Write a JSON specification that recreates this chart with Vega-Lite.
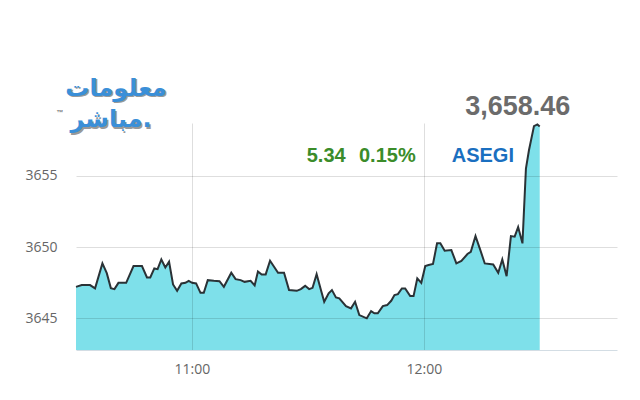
{
  "$schema": "https://vega.github.io/schema/vega-lite/v6.json",
  "autosize": "none",
  "width": 541,
  "height": 227,
  "padding": {"left": 76, "top": 123, "right": 23, "bottom": 50},
  "background": "white",
  "config": {"view": {"stroke": null}},
  "datasets": {
    "series": [
      {"t": "2024-01-01T10:30:00", "v": 3647.21},
      {"t": "2024-01-01T10:31:29", "v": 3647.33},
      {"t": "2024-01-01T10:33:38", "v": 3647.33},
      {"t": "2024-01-01T10:34:56", "v": 3647.10},
      {"t": "2024-01-01T10:36:50", "v": 3648.85},
      {"t": "2024-01-01T10:37:58", "v": 3648.17},
      {"t": "2024-01-01T10:39:01", "v": 3647.12},
      {"t": "2024-01-01T10:39:57", "v": 3647.05},
      {"t": "2024-01-01T10:40:59", "v": 3647.49},
      {"t": "2024-01-01T10:42:59", "v": 3647.49},
      {"t": "2024-01-01T10:44:53", "v": 3648.67},
      {"t": "2024-01-01T10:47:04", "v": 3648.67},
      {"t": "2024-01-01T10:48:22", "v": 3647.87},
      {"t": "2024-01-01T10:49:13", "v": 3647.87},
      {"t": "2024-01-01T10:50:16", "v": 3648.50},
      {"t": "2024-01-01T10:51:07", "v": 3648.45},
      {"t": "2024-01-01T10:52:05", "v": 3649.13},
      {"t": "2024-01-01T10:53:07", "v": 3648.57},
      {"t": "2024-01-01T10:54:05", "v": 3648.97},
      {"t": "2024-01-01T10:55:07", "v": 3647.38},
      {"t": "2024-01-01T10:56:10", "v": 3646.93},
      {"t": "2024-01-01T10:57:16", "v": 3647.45},
      {"t": "2024-01-01T10:58:19", "v": 3647.49},
      {"t": "2024-01-01T10:59:10", "v": 3647.63},
      {"t": "2024-01-01T11:00:03", "v": 3647.49},
      {"t": "2024-01-01T11:01:05", "v": 3647.45},
      {"t": "2024-01-01T11:02:13", "v": 3646.79},
      {"t": "2024-01-01T11:03:04", "v": 3646.79},
      {"t": "2024-01-01T11:04:06", "v": 3647.68},
      {"t": "2024-01-01T11:05:40", "v": 3647.63},
      {"t": "2024-01-01T11:07:08", "v": 3647.61},
      {"t": "2024-01-01T11:08:16", "v": 3647.21},
      {"t": "2024-01-01T11:10:11", "v": 3648.20},
      {"t": "2024-01-01T11:11:18", "v": 3647.75},
      {"t": "2024-01-01T11:12:36", "v": 3647.68},
      {"t": "2024-01-01T11:13:38", "v": 3647.56},
      {"t": "2024-01-01T11:15:11", "v": 3647.63},
      {"t": "2024-01-01T11:16:14", "v": 3647.31},
      {"t": "2024-01-01T11:17:05", "v": 3648.29},
      {"t": "2024-01-01T11:18:03", "v": 3648.08},
      {"t": "2024-01-01T11:19:05", "v": 3648.08},
      {"t": "2024-01-01T11:20:13", "v": 3649.04},
      {"t": "2024-01-01T11:21:15", "v": 3648.62},
      {"t": "2024-01-01T11:22:17", "v": 3648.20},
      {"t": "2024-01-01T11:23:50", "v": 3648.20},
      {"t": "2024-01-01T11:25:08", "v": 3646.98},
      {"t": "2024-01-01T11:27:08", "v": 3646.93},
      {"t": "2024-01-01T11:28:11", "v": 3647.05},
      {"t": "2024-01-01T11:29:18", "v": 3647.28},
      {"t": "2024-01-01T11:30:20", "v": 3647.05},
      {"t": "2024-01-01T11:31:13", "v": 3647.14},
      {"t": "2024-01-01T11:32:16", "v": 3648.10},
      {"t": "2024-01-01T11:33:23", "v": 3646.98},
      {"t": "2024-01-01T11:34:14", "v": 3646.16},
      {"t": "2024-01-01T11:35:23", "v": 3646.75},
      {"t": "2024-01-01T11:36:14", "v": 3646.98},
      {"t": "2024-01-01T11:37:16", "v": 3646.47},
      {"t": "2024-01-01T11:38:08", "v": 3646.40},
      {"t": "2024-01-01T11:39:52", "v": 3645.86},
      {"t": "2024-01-01T11:41:10", "v": 3645.70},
      {"t": "2024-01-01T11:42:13", "v": 3646.16},
      {"t": "2024-01-01T11:43:19", "v": 3645.23},
      {"t": "2024-01-01T11:45:15", "v": 3645.00},
      {"t": "2024-01-01T11:46:22", "v": 3645.51},
      {"t": "2024-01-01T11:47:13", "v": 3645.35},
      {"t": "2024-01-01T11:48:06", "v": 3645.35},
      {"t": "2024-01-01T11:49:24", "v": 3645.86},
      {"t": "2024-01-01T11:50:31", "v": 3645.93},
      {"t": "2024-01-01T11:51:34", "v": 3646.23},
      {"t": "2024-01-01T11:52:25", "v": 3646.63},
      {"t": "2024-01-01T11:53:18", "v": 3646.70},
      {"t": "2024-01-01T11:54:20", "v": 3647.10},
      {"t": "2024-01-01T11:55:11", "v": 3647.10},
      {"t": "2024-01-01T11:56:29", "v": 3646.56},
      {"t": "2024-01-01T11:57:21", "v": 3646.56},
      {"t": "2024-01-01T11:58:19", "v": 3647.80},
      {"t": "2024-01-01T11:59:21", "v": 3647.49},
      {"t": "2024-01-01T12:00:23", "v": 3648.67},
      {"t": "2024-01-01T12:01:15", "v": 3648.74},
      {"t": "2024-01-01T12:02:23", "v": 3648.81},
      {"t": "2024-01-01T12:03:26", "v": 3650.26},
      {"t": "2024-01-01T12:04:17", "v": 3650.26},
      {"t": "2024-01-01T12:05:24", "v": 3649.74},
      {"t": "2024-01-01T12:07:08", "v": 3649.79},
      {"t": "2024-01-01T12:08:26", "v": 3648.85},
      {"t": "2024-01-01T12:09:44", "v": 3649.02},
      {"t": "2024-01-01T12:11:18", "v": 3649.51},
      {"t": "2024-01-01T12:12:10", "v": 3649.67},
      {"t": "2024-01-01T12:13:23", "v": 3650.77},
      {"t": "2024-01-01T12:14:29", "v": 3649.91},
      {"t": "2024-01-01T12:15:47", "v": 3648.85},
      {"t": "2024-01-01T12:17:58", "v": 3648.78},
      {"t": "2024-01-01T12:19:16", "v": 3648.20},
      {"t": "2024-01-01T12:20:19", "v": 3649.13},
      {"t": "2024-01-01T12:21:26", "v": 3647.96},
      {"t": "2024-01-01T12:22:33", "v": 3650.77},
      {"t": "2024-01-01T12:23:31", "v": 3650.73},
      {"t": "2024-01-01T12:24:25", "v": 3651.40},
      {"t": "2024-01-01T12:25:32", "v": 3650.26},
      {"t": "2024-01-01T12:26:26", "v": 3655.51},
      {"t": "2024-01-01T12:27:13", "v": 3656.79},
      {"t": "2024-01-01T12:28:31", "v": 3658.48},
      {"t": "2024-01-01T12:29:24", "v": 3658.60},
      {"t": "2024-01-01T12:30:00", "v": 3658.46}
    ]
  },
  "layer": [
    {
      "data": {"name": "series"},
      "mark": {"type": "area", "color": "#7ee0ea", "opacity": 1, "fillOpacity": 1,
        "line": {"color": "#2a3236", "strokeWidth": 2}},
      "encoding": {
        "x": {
          "field": "t", "type": "temporal",
          "scale": {"domain": [
            {"year": 2024, "month": 1, "date": 1, "hours": 10, "minutes": 30},
            {"year": 2024, "month": 1, "date": 1, "hours": 12, "minutes": 50}
          ], "nice": false},
          "axis": {
            "title": null, "format": "%H:%M",
            "values": [
              {"year": 2024, "month": 1, "date": 1, "hours": 11, "minutes": 0},
              {"year": 2024, "month": 1, "date": 1, "hours": 12, "minutes": 0}
            ],
            "grid": true, "gridColor": "#000", "gridOpacity": 0.13, "ticks": false,
            "domain": true, "domainColor": "#d3dde4", "domainWidth": 1,
            "labelFont": "Open Sans", "labelFontSize": 14, "labelColor": "#666", "labelPadding": 12,
            "zindex": 1
          }
        },
        "y": {
          "field": "v", "type": "quantitative",
          "scale": {"domain": [3642.78, 3658.7], "zero": false, "nice": false},
          "axis": {
            "title": null, "values": [3645, 3650, 3655], "format": "d",
            "grid": true, "gridColor": "#000", "gridOpacity": 0.13, "ticks": false, "domain": false,
            "labelFont": "Open Sans", "labelFontSize": 14, "labelColor": "#666", "labelPadding": 19,
            "zindex": 1
          }
        },
        "y2": {"datum": 3642.78}
      }
    },
    {
      "data": {"values": [{"t": "2024-01-01T12:24:18", "v": 3659.26, "label": "3,658.46"}]},
      "mark": {"type": "text", "align": "center", "baseline": "alphabetic", "font": "Liberation Sans",
        "fontWeight": "bold", "fontSize": 27, "color": "#6b6b6b"},
      "encoding": {"x": {"field": "t", "type": "temporal"}, "y": {"field": "v", "type": "quantitative"}, "text": {"field": "label"}}
    },
    {
      "data": {"values": [
        {"t": "2024-01-01T11:29:42", "v": 3655.99, "label": "5.34"},
        {"t": "2024-01-01T11:43:14", "v": 3655.99, "label": "0.15%"}
      ]},
      "mark": {"type": "text", "align": "left", "baseline": "alphabetic", "font": "Liberation Sans",
        "fontWeight": "bold", "fontSize": 20, "color": "#3b8c2a"},
      "encoding": {"x": {"field": "t", "type": "temporal"}, "y": {"field": "v", "type": "quantitative"}, "text": {"field": "label"}}
    },
    {
      "data": {"values": [{"t": "2024-01-01T12:07:14", "v": 3655.99, "label": "ASEGI"}]},
      "mark": {"type": "text", "align": "left", "baseline": "alphabetic", "font": "Liberation Sans",
        "fontWeight": "bold", "fontSize": 20, "color": "#1a6fc0"},
      "encoding": {"x": {"field": "t", "type": "temporal"}, "y": {"field": "v", "type": "quantitative"}, "text": {"field": "label"}}
    },
    {
      "data": {"values": [
        {"t": "2024-01-01T10:40:21", "v": 3660.6, "label": "معلومات"},
        {"t": "2024-01-01T10:39:04", "v": 3658.4, "label": "مباشر."}
      ]},
      "mark": {"type": "text", "align": "center", "baseline": "alphabetic", "font": "DejaVu Sans",
        "fontWeight": "bold", "fontSize": 24, "color": "#999", "dx": 1.5, "dy": 1.5},
      "encoding": {"x": {"field": "t", "type": "temporal"}, "y": {"field": "v", "type": "quantitative"}, "text": {"field": "label"}}
    },
    {
      "data": {"values": [
        {"t": "2024-01-01T10:40:21", "v": 3660.6, "label": "معلومات"},
        {"t": "2024-01-01T10:39:04", "v": 3658.4, "label": "مباشر."}
      ]},
      "mark": {"type": "text", "align": "center", "baseline": "alphabetic", "font": "DejaVu Sans",
        "fontWeight": "bold", "fontSize": 24, "color": "#3a8fd8"},
      "encoding": {"x": {"field": "t", "type": "temporal"}, "y": {"field": "v", "type": "quantitative"}, "text": {"field": "label"}}
    },
    {
      "data": {"values": [{"t": "2024-01-01T10:25:52", "v": 3659.4, "label": "™"}]},
      "mark": {"type": "text", "align": "center", "baseline": "middle", "font": "Liberation Sans",
        "fontWeight": "bold", "fontSize": 7, "color": "#777"},
      "encoding": {"x": {"field": "t", "type": "temporal"}, "y": {"field": "v", "type": "quantitative"}, "text": {"field": "label"}}
    }
  ]
}
